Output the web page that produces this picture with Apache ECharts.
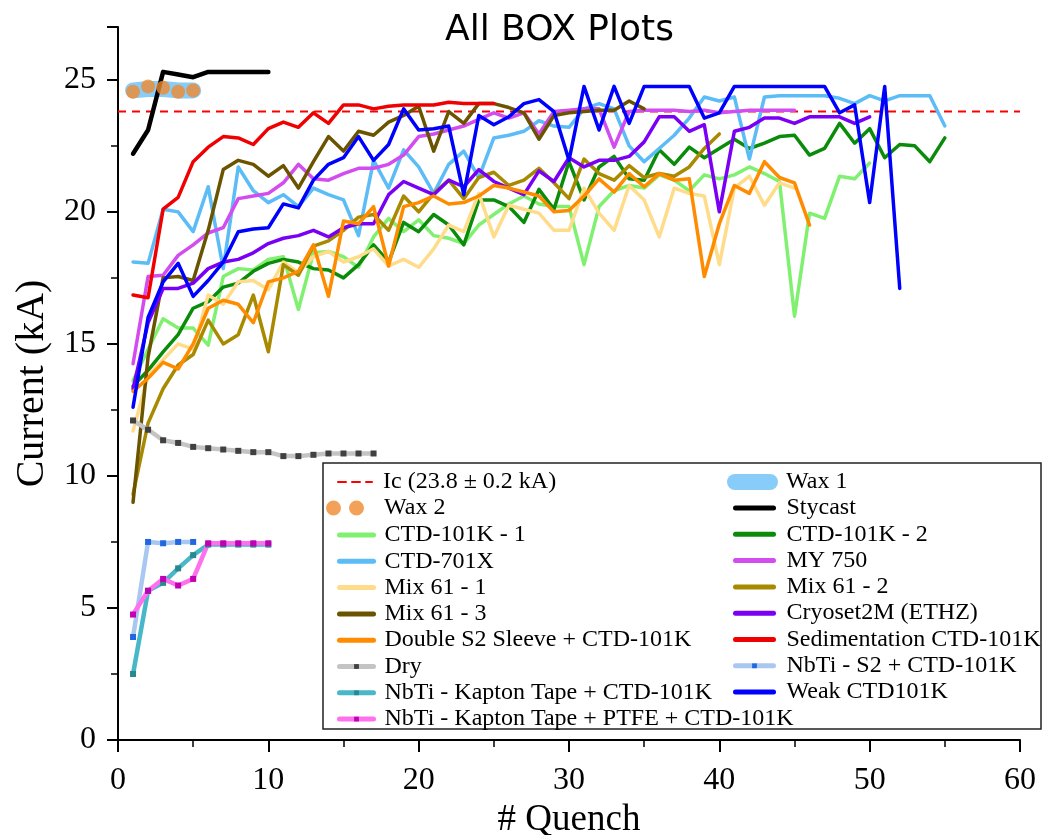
<!DOCTYPE html>
<html>
<head>
<meta charset="utf-8">
<script src="https://cdn.jsdelivr.net/npm/echarts@6/dist/echarts.min.js"></script>
<style>
  html, body { margin: 0; padding: 0; background: #fff; }
  #chart { width: 1044px; height: 835px; }
</style>
</head>
<body>
<div id="chart"></div>
<script>
// critical current line
var icValue = 23.8;
var xTicks = [0, 10, 20, 30, 40, 50, 60];
var yTicks = [0, 5, 10, 15, 20, 25];

// values per quench (quench number = index + 1)
var wax1 = [24.6, 24.65, 24.65, 24.6, 24.6];
var wax2 = [24.55, 24.75, 24.7, 24.55, 24.6];
var stycast = [22.2, 23.1, 25.3, 25.2, 25.1, 25.3, 25.3, 25.3, 25.3, 25.3];
var ctd1 = [13.6, 14.8, 15.95, 15.6, 15.6, 14.95, 17.55, 17.85, 17.8, 18.2, 18.3, 16.3, 18.45, 18.5, 18.3, 17.9, 19.05, 19.75, 19.25, 19.7,
  19.1, 19.0, 18.8, 19.5, 19.9, 20.3, 20.6, 20.3, 20.2, 20.2, 18.0, 20.2, 20.8, 21.0, 20.9, 21.4, 21.2, 20.8, 21.4, 21.25,
  21.4, 21.7, 21.45, 21.15, 16.05, 19.95, 19.75, 21.35, 21.25, 21.85];
var ctd2 = [13.4, 14.0, 14.7, 15.35, 16.35, 16.6, 17.15, 17.3, 17.75, 18.05, 18.2, 18.1, 17.85, 17.8, 17.5, 18.0, 18.75, 18.1, 19.6, 19.25,
  19.9, 19.5, 18.75, 20.45, 20.45, 20.2, 19.6, 20.85, 20.1, 21.9, 20.45, 21.7, 22.1, 21.25, 21.2, 22.35, 21.8, 22.45, 22.05, 22.4,
  22.75, 22.4, 22.6, 22.85, 22.9, 22.15, 22.4, 23.35, 22.6, 23.15, 22.05, 22.55, 22.5, 21.9, 22.8];
var ctd701 = [18.1, 18.05, 20.1, 20.0, 19.25, 20.95, 17.85, 21.7, 20.8, 20.35, 20.65, 20.2, 20.9, 20.65, 20.45, 19.1, 21.95, 20.9, 22.35, 21.7,
  20.7, 21.8, 22.3, 21.3, 22.8, 22.9, 23.05, 23.45, 23.25, 23.2, 23.9, 24.1, 23.9, 22.5, 21.9, 22.4, 22.9, 23.55, 24.35, 24.2,
  24.35, 22.0, 24.35, 24.4, 24.4, 24.4, 24.4, 24.3, 24.1, 24.4, 24.2, 24.4, 24.4, 24.4, 23.25];
var my750 = [14.25, 17.55, 17.6, 18.35, 18.75, 19.2, 19.4, 20.5, 20.6, 20.7, 21.1, 21.8, 21.25, 21.2, 21.45, 21.65, 21.65, 21.8, 22.15, 22.85,
  22.95, 23.1, 23.25, 23.5, 23.75, 23.55, 23.75, 22.95, 23.8, 23.85, 23.9, 23.9, 22.45, 23.8, 23.85, 23.85, 23.85, 23.8, 23.85, 23.75,
  23.8, 23.85, 23.85, 23.85, 23.85];
var mix1 = [11.7, 13.8, 14.4, 15.0, 14.8, 16.85, 16.5, 17.35, 17.4, 17.05, 18.1, 17.7, 18.3, 18.5, 18.1, 18.3, 18.6, 17.95, 18.2, 17.9,
  18.6, 19.5, 19.25, 20.7, 19.05, 20.25, 20.1, 19.95, 19.3, 19.3, 20.9, 19.95, 19.3, 21.0, 20.45, 19.05, 20.9, 20.7, 20.6, 18.0,
  20.9, 21.35, 20.25, 21.1, 20.9];
var mix2 = [9.3, 12.0, 13.3, 14.2, 14.6, 15.9, 15.0, 15.35, 16.85, 14.7, 18.0, 17.6, 18.7, 18.9, 19.3, 19.8, 19.9, 19.3, 20.6, 20.0,
  20.7, 21.2, 20.5, 21.3, 21.5, 21.0, 21.2, 21.65, 21.1, 20.5, 22.0, 21.45, 21.2, 21.75, 21.3, 21.45, 21.35, 21.7, 22.4, 22.95];
var mix3 = [9.0, 14.5, 17.5, 17.55, 17.4, 19.3, 21.6, 21.95, 21.8, 21.35, 21.75, 20.9, 21.9, 22.85, 22.3, 23.05, 22.9, 23.4, 23.65, 24.0,
  22.3, 23.8, 23.35, 24.1, 24.1, 23.95, 23.75, 22.75, 23.65, 23.75, 23.8, 23.85, 23.85, 24.2, 23.9];
var cryoset = [13.3, 15.8, 17.1, 17.1, 17.3, 17.85, 18.1, 18.2, 18.45, 18.8, 19.0, 19.1, 19.3, 19.05, 19.4, 19.55, 19.55, 20.65, 21.15, 20.9,
  20.65, 21.2, 20.95, 21.6, 21.15, 20.9, 20.65, 21.55, 21.15, 22.05, 21.7, 21.95, 21.95, 22.1, 22.65, 23.6, 23.6, 23.05, 23.3, 20.0,
  23.05, 23.2, 23.55, 23.55, 23.35, 23.6, 23.6, 23.6, 23.35, 23.6];
var doubleS2 = [13.2, 13.7, 14.3, 14.05, 15.0, 16.35, 16.65, 16.5, 15.8, 17.35, 17.5, 17.75, 18.75, 16.8, 19.65, 19.55, 20.2, 17.95, 20.2, 20.35,
  20.6, 20.3, 20.35, 20.6, 21.0, 20.9, 20.75, 20.6, 20.0, 20.05, 20.6, 21.25, 20.75, 21.45, 20.95, 21.45, 21.2, 21.25, 17.55, 19.55,
  21.0, 20.7, 21.9, 21.3, 21.1, 19.5];
var sedimentation = [16.85, 16.75, 20.1, 20.55, 21.9, 22.45, 22.85, 22.8, 22.55, 23.15, 23.4, 23.2, 23.75, 23.35, 24.05, 24.05, 23.9, 24.0, 24.05, 24.05,
  24.05, 24.15, 24.1, 24.1, 24.1];
var dry = [12.1, 11.75, 11.35, 11.25, 11.1, 11.05, 11.0, 10.95, 10.9, 10.9, 10.75, 10.75, 10.8, 10.85, 10.85, 10.85, 10.85];
var nbtiS2 = [3.9, 7.5, 7.45, 7.5, 7.5];
var nbtiKapton = [2.5, 5.65, 5.95, 6.5, 7.0, 7.4, 7.4, 7.4, 7.4, 7.4];
var nbtiPtfe = [4.75, 5.65, 6.1, 5.85, 6.1, 7.45, 7.45, 7.45, 7.45, 7.45];
var weak = [12.6, 16.0, 17.35, 18.05, 16.8, 17.4, 18.1, 19.25, 19.35, 19.4, 20.3, 20.15, 21.2, 21.8, 22.05, 22.85, 21.95, 22.55, 23.9, 23.1,
  23.15, 23.25, 20.65, 23.65, 23.3, 23.6, 24.1, 24.25, 23.8, 21.95, 24.75, 23.1, 24.75, 23.35, 24.75, 24.75, 24.75, 24.75, 23.55, 23.75,
  24.75, 24.75, 24.75, 24.75, 24.75, 24.75, 24.75, 23.75, 24.05, 20.35, 24.75, 17.1];

var serif = 'Liberation Serif';
var IC_NAME = 'Ic (23.8 ± 0.2 kA)';

function pts(arr) {
    return arr.map(function (v, i) { return [i + 1, v]; });
}

function lineSeries(name, arr, color, width) {
    return {
        name: name,
        type: 'line',
        data: pts(arr),
        symbol: 'none',
        lineStyle: { color: color, width: width || 3.5, cap: 'round', join: 'round' },
        itemStyle: { color: color },
        z: 2
    };
}

function markedSeries(name, arr, lineColor, markColor) {
    return {
        name: name,
        type: 'line',
        data: pts(arr),
        symbol: 'rect',
        symbolSize: 6,
        showSymbol: true,
        lineStyle: { color: lineColor, width: 4.5 },
        itemStyle: { color: markColor },
        z: 3
    };
}

var series = [
    {
        name: IC_NAME,
        type: 'line',
        data: [[0, icValue], [60, icValue]],
        symbol: 'none',
        lineStyle: { color: '#ff0000', width: 2, type: [8, 6] },
        itemStyle: { color: '#ff0000' },
        z: 1
    },
    lineSeries('Wax 1', wax1, '#88ccfa', 16),
    {
        name: 'Wax 2',
        type: 'scatter',
        data: pts(wax2),
        symbolSize: 14,
        itemStyle: { color: '#f08a2e' },
        z: 3
    },
    lineSeries('Stycast', stycast, '#000000', 4.5),
    lineSeries('CTD-101K - 1', ctd1, '#80f070'),
    lineSeries('CTD-101K - 2', ctd2, '#0a8c0a'),
    lineSeries('CTD-701X', ctd701, '#5cbcf6'),
    lineSeries('MY 750', my750, '#d24cf0'),
    lineSeries('Mix 61 - 1', mix1, '#ffdc8a'),
    lineSeries('Mix 61 - 2', mix2, '#a88a00'),
    lineSeries('Mix 61 - 3', mix3, '#6b5400'),
    lineSeries('Cryoset2M (ETHZ)', cryoset, '#7a00f5'),
    lineSeries('Double S2 Sleeve + CTD-101K', doubleS2, '#ff8c00'),
    lineSeries('Sedimentation CTD-101K', sedimentation, '#f00000'),
    markedSeries('Dry', dry, '#c4c4c4', '#404040'),
    markedSeries('NbTi - S2 + CTD-101K', nbtiS2, '#a8c8f0', '#2266e0'),
    markedSeries('NbTi - Kapton Tape + CTD-101K', nbtiKapton, '#48b8c8', '#2a8890'),
    markedSeries('NbTi - Kapton Tape + PTFE + CTD-101K', nbtiPtfe, '#ff70ee', '#c000b4'),
    lineSeries('Weak CTD101K', weak, '#0000ff')
];

var twoDots = 'path://M0,7.5a7.5,7.5 0 1,0 15,0a7.5,7.5 0 1,0 -15,0M23,7.5a7.5,7.5 0 1,0 15,0a7.5,7.5 0 1,0 -15,0';
var capsule = 'path://M8,0L43,0A8,8 0 0,1 43,16L8,16A8,8 0 0,1 8,0Z';
var markerNames = ['Dry', 'NbTi - S2 + CTD-101K', 'NbTi - Kapton Tape + CTD-101K', 'NbTi - Kapton Tape + PTFE + CTD-101K'];

// plain lines: hide the legend's default circle symbol
function legendItems(names) {
    return names.map(function (n) {
        if (markerNames.indexOf(n) >= 0) return { name: n };
        return { name: n, itemStyle: { opacity: 0 } };
    });
}

function legendBox(left, top, itemWidth, itemHeight, padLeft, data) {
    return {
        orient: 'vertical',
        left: left,
        top: top,
        itemWidth: itemWidth,
        itemHeight: itemHeight,
        itemGap: 2.3,
        padding: 0,
        selectedMode: false,
        lineStyle: { width: 5, cap: 'round' },
        textStyle: { fontFamily: serif, fontSize: 24, color: '#000', lineHeight: 22, padding: [0, 0, 0, padLeft] },
        data: data
    };
}

var chart = echarts.init(document.getElementById('chart'), null, { renderer: 'canvas' });
chart.setOption({
    animation: false,
    backgroundColor: '#fff',
    title: {
        text: 'All BOX Plots',
        left: 440,
        top: 8,
        textStyle: { fontFamily: 'DejaVu Sans', fontSize: 36, fontWeight: 'normal', color: '#000' }
    },
    grid: { left: 118, right: 24, top: 27, bottom: 95, containLabel: false, outerBoundsMode: 'none' },
    xAxis: {
        type: 'value',
        min: 0,
        max: 60,
        interval: 10,
        name: '# Quench',
        nameLocation: 'middle',
        nameGap: 57,
        nameTextStyle: { fontFamily: serif, fontSize: 37, color: '#000' },
        axisLine: { onZero: false, lineStyle: { color: '#000', width: 2 } },
        axisTick: { length: 12, lineStyle: { color: '#000', width: 2 } },
        minorTick: { show: true, splitNumber: 2, length: 7, lineStyle: { color: '#000', width: 1.5 } },
        axisLabel: {
            margin: 25, fontFamily: serif, fontSize: 32, color: '#000',
            formatter: function (v) { return xTicks.indexOf(v) >= 0 ? String(v) : ''; }
        },
        splitLine: { show: false }
    },
    yAxis: {
        type: 'value',
        min: 0,
        max: 27,
        interval: 5,
        name: 'Current (kA)',
        nameLocation: 'middle',
        nameGap: 66,
        nameTextStyle: { fontFamily: serif, fontSize: 40, color: '#000' },
        axisLine: { show: true, onZero: false, lineStyle: { color: '#000', width: 2 } },
        axisTick: { show: true, length: 11, lineStyle: { color: '#000', width: 2 } },
        minorTick: { show: true, splitNumber: 2, length: 7, lineStyle: { color: '#000', width: 1.5 } },
        axisLabel: {
            margin: 22, fontFamily: serif, fontSize: 32, color: '#000', showMaxLabel: false,
            formatter: function (v) { return yTicks.indexOf(v) >= 0 ? String(v) : ''; }
        },
        splitLine: { show: false }
    },
    legend: [
        legendBox(337, 470, 34, 6, 6, [{ name: IC_NAME, itemStyle: { opacity: 0 }, lineStyle: { width: 2 } }]),
        legendBox(326, 496, 38, 15, 15, [{ name: 'Wax 2', icon: twoDots }]),
        legendBox(337, 523, 34, 6, 6, legendItems([
            'CTD-101K - 1', 'CTD-701X', 'Mix 61 - 1', 'Mix 61 - 3',
            'Double S2 Sleeve + CTD-101K', 'Dry',
            'NbTi - Kapton Tape + CTD-101K', 'NbTi - Kapton Tape + PTFE + CTD-101K'
        ])),
        legendBox(727, 470, 51, 16, 3, [{ name: 'Wax 1', icon: capsule }]),
        legendBox(733, 496, 38, 6, 8, legendItems([
            'Stycast', 'CTD-101K - 2', 'MY 750', 'Mix 61 - 2', 'Cryoset2M (ETHZ)',
            'Sedimentation CTD-101K', 'NbTi - S2 + CTD-101K', 'Weak CTD101K'
        ]))
    ],
    graphic: [{
        type: 'rect',
        shape: { x: 323, y: 463, width: 718, height: 266 },
        style: { fill: '#fff', stroke: '#222', lineWidth: 1.5 },
        z: 3
    }],
    series: series
});
</script>
</body>
</html>
